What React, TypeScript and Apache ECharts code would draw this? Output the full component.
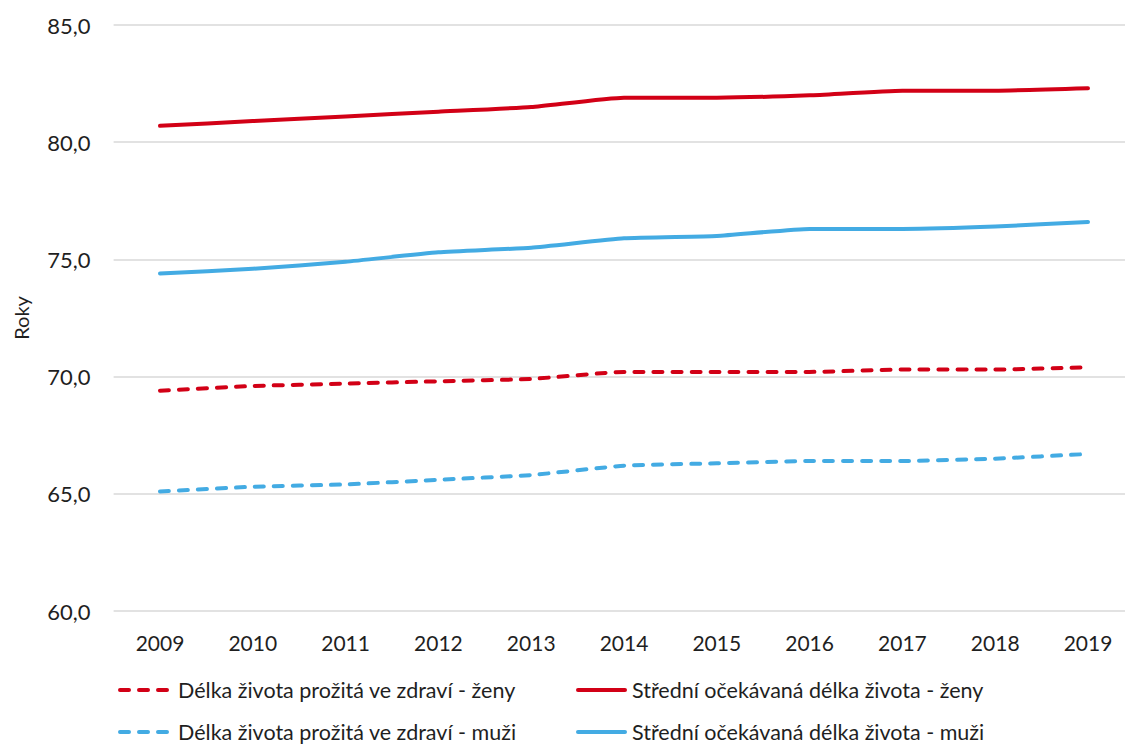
import React, { useEffect, useRef } from "react";
import * as echarts from "echarts";

// Years on the horizontal axis
const years = ["2009", "2010", "2011", "2012", "2013", "2014", "2015", "2016", "2017", "2018", "2019"];

// Healthy life expectancy (years lived in health)
const healthyWomen = [69.4, 69.6, 69.7, 69.8, 69.9, 70.2, 70.2, 70.2, 70.3, 70.3, 70.4];
const healthyMen = [65.1, 65.3, 65.4, 65.6, 65.8, 66.2, 66.3, 66.4, 66.4, 66.5, 66.7];

// Life expectancy at birth
const expectancyWomen = [80.7, 80.9, 81.1, 81.3, 81.5, 81.9, 81.9, 82.0, 82.2, 82.2, 82.3];
const expectancyMen = [74.4, 74.6, 74.9, 75.3, 75.5, 75.9, 76.0, 76.3, 76.3, 76.4, 76.6];

const seriesNames = [
  "Délka života prožitá ve zdraví - ženy",
  "Střední očekávaná délka života - ženy",
  "Délka života prožitá ve zdraví - muži",
  "Střední očekávaná délka života - muži",
];

const RED = "#D20016";
const BLUE = "#43ABE3";
const TEXT = "#1f1f1f";
const FONT = "Lato, 'Open Sans', sans-serif";
const DASH = [9, 10];

export default function App() {
  const ref = useRef<HTMLDivElement>(null);

  useEffect(() => {
    if (!ref.current) return;
    const chart = echarts.init(ref.current, null, { renderer: "svg" });

    const line = (name: string, data: number[], color: string, dashed: boolean) => ({
      name,
      type: "line",
      data,
      symbol: "none",
      smooth: 0.15,
      lineStyle: {
        color,
        width: 4,
        type: dashed ? DASH : "solid",
        cap: "round",
        join: "round",
      },
      itemStyle: { color },
    });

    const legendItem = (name: string, left: number, top: number, gap: number, color: string, dashed: boolean) => ({
      data: [name],
      left,
      top,
      padding: 0,
      itemWidth: 47,
      itemHeight: 14,
      itemStyle: { opacity: 0 },
      lineStyle: { color, width: 4, type: dashed ? DASH : "solid", cap: "round" },
      textStyle: {
        color: TEXT,
        fontFamily: FONT,
        fontWeight: 400,
        fontSize: 21.5,
        lineHeight: 24,
        padding: [0, 0, 0, gap],
      },
    });

    chart.setOption({
      animation: false,
      textStyle: { fontFamily: FONT, fontWeight: 400 },
      grid: {
        left: 113.6,
        width: 1020.8,
        top: 25,
        bottom: 134,
        containLabel: false,
        outerBoundsMode: "none",
      },
      xAxis: {
        type: "category",
        data: years,
        boundaryGap: true,
        axisLine: { show: false },
        axisTick: { show: false },
        axisLabel: { color: TEXT, fontSize: 21, fontFamily: FONT, fontWeight: 400, margin: 21 },
      },
      yAxis: {
        type: "value",
        min: 60,
        max: 85,
        interval: 5,
        name: "Roky",
        nameLocation: "middle",
        nameGap: 83,
        nameTextStyle: { color: TEXT, fontSize: 20, fontFamily: FONT, fontWeight: 400 },
        axisLine: { show: false },
        axisTick: { show: false },
        splitLine: { lineStyle: { color: "#d9d9d9", width: 1.5 } },
        axisLabel: {
          color: TEXT,
          fontSize: 22,
          fontFamily: FONT,
          fontWeight: 400,
          margin: 23,
          formatter: (v: number) => v.toFixed(1).replace(".", ","),
        },
      },
      legend: [
        legendItem(seriesNames[0], 118, 678, 6, RED, true),
        legendItem(seriesNames[1], 576, 678, 2, RED, false),
        legendItem(seriesNames[2], 118, 720, 6, BLUE, true),
        legendItem(seriesNames[3], 576, 720, 2, BLUE, false),
      ],
      series: [
        line(seriesNames[0], healthyWomen, RED, true),
        line(seriesNames[1], expectancyWomen, RED, false),
        line(seriesNames[2], healthyMen, BLUE, true),
        line(seriesNames[3], expectancyMen, BLUE, false),
      ],
    });

    return () => chart.dispose();
  }, []);

  return (
    <div
      ref={ref}
      style={{ position: "fixed", left: 0, top: 0, width: 1125, height: 745, background: "#fff" }}
    />
  );
}
